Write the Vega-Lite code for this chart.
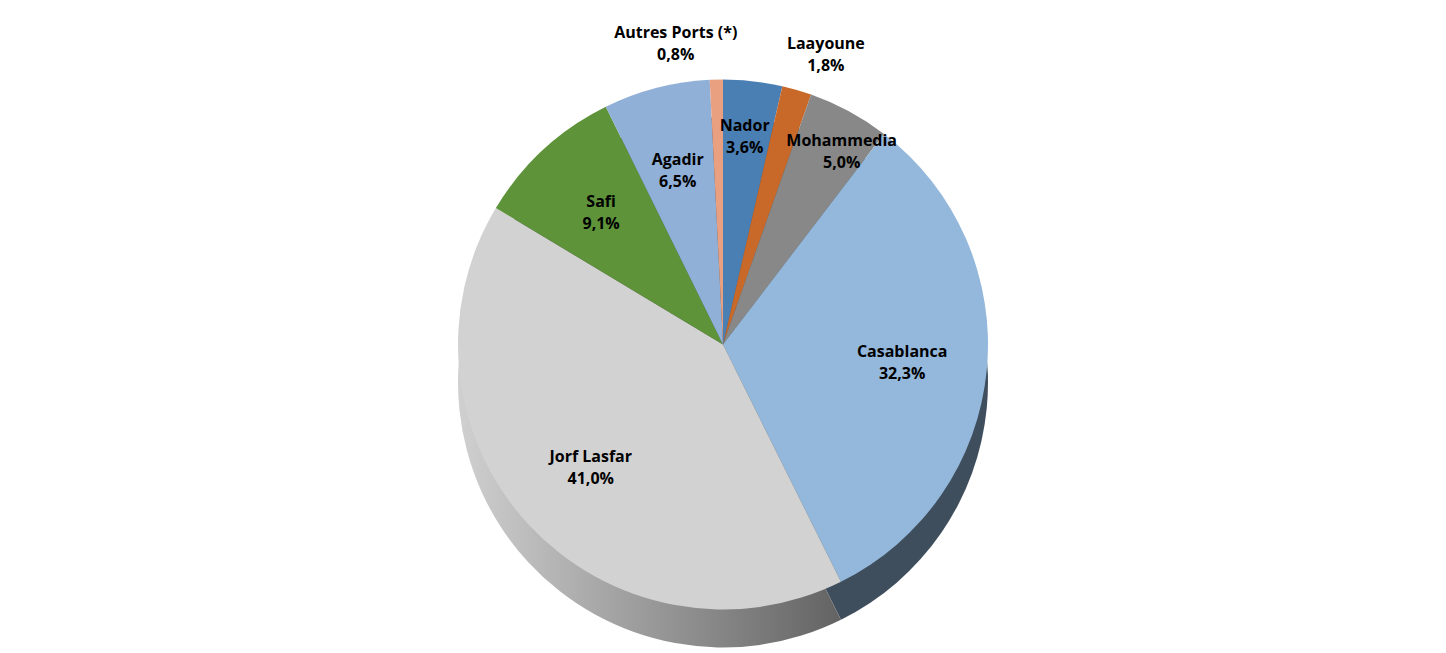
{
  "$schema": "https://vega.github.io/schema/vega-lite/v6.json",
  "width": 1446,
  "height": 653,
  "autosize": {"type": "fit", "contains": "padding"},
  "background": "white",
  "config": {
    "view": {"stroke": null},
    "text": {"fontSize": 16, "fontWeight": "bold", "font": "Open Sans", "color": "#000000"},
    "locale": {"number": {"decimal": ",", "thousands": " ", "grouping": [3], "currency": ["", " €"]}}
  },
  "data": {
    "values": [
      {"rank": 1, "port": "Nador", "v": 0.036},
      {"rank": 2, "port": "Laayoune", "v": 0.018},
      {"rank": 3, "port": "Mohammedia", "v": 0.050},
      {"rank": 4, "port": "Casablanca", "v": 0.323},
      {"rank": 5, "port": "Jorf Lasfar", "v": 0.410},
      {"rank": 6, "port": "Safi", "v": 0.091},
      {"rank": 7, "port": "Agadir", "v": 0.065},
      {"rank": 8, "port": "Autres Ports (*)", "v": 0.008}
    ]
  },
  "encoding": {
    "theta": {"field": "v", "type": "quantitative", "stack": true},
    "order": {"field": "rank", "type": "quantitative"}
  },
  "layer": [
    {
      "mark": {"type": "arc", "outerRadius": 265, "yOffset": 56},
      "encoding": {
        "fill": {
          "condition": [
            {"test": "datum.port === 'Casablanca'", "value": "#3f4e5d"},
            {"test": "datum.port === 'Jorf Lasfar'", "value": {"gradient": "linear", "x1": 0, "x2": 1, "y1": 0, "y2": 0, "stops": [{"offset": 0, "color": "#d0d0d0"}, {"offset": 1, "color": "#636363"}]}}
          ],
          "value": "#555555"
        }
      }
    },
    {
      "mark": {"type": "arc", "outerRadius": 265, "yOffset": 18},
      "encoding": {
        "color": {
          "field": "port", "type": "nominal", "legend": null,
          "scale": {
            "domain": ["Nador", "Laayoune", "Mohammedia", "Casablanca", "Jorf Lasfar", "Safi", "Agadir", "Autres Ports (*)"],
            "range": ["#4a7fb3", "#c8692a", "#888888", "#94b8dc", "#d2d2d2", "#5e933a", "#90b0d8", "#e8a080"]
          }
        }
      }
    },
    {
      "mark": {"type": "text", "radius": 180, "yOffset": 8},
      "encoding": {"text": {"condition": {"test": "datum.v >= 0.06", "field": "port"}, "value": ""}}
    },
    {
      "mark": {"type": "text", "radius": 180, "yOffset": 30},
      "encoding": {"text": {"condition": {"test": "datum.v >= 0.06", "field": "v", "type": "quantitative", "format": ".1%"}, "value": ""}}
    },
    {
      "mark": {"type": "text", "radius": 210, "yOffset": 8, "dx": -2},
      "encoding": {"text": {"condition": {"test": "datum.port === 'Nador'", "field": "port"}, "value": ""}}
    },
    {
      "mark": {"type": "text", "radius": 210, "yOffset": 30, "dx": -2},
      "encoding": {"text": {"condition": {"test": "datum.port === 'Nador'", "field": "v", "type": "quantitative", "format": ".1%"}, "value": ""}}
    },
    {
      "mark": {"type": "text", "radius": 220, "yOffset": 8, "dx": 14},
      "encoding": {"text": {"condition": {"test": "datum.port === 'Mohammedia'", "field": "port"}, "value": ""}}
    },
    {
      "mark": {"type": "text", "radius": 220, "yOffset": 30, "dx": 14},
      "encoding": {"text": {"condition": {"test": "datum.port === 'Mohammedia'", "field": "v", "type": "quantitative", "format": ".1%"}, "value": ""}}
    },
    {
      "mark": {"type": "text", "radius": 290, "yOffset": -4, "dx": 22},
      "encoding": {"text": {"condition": {"test": "datum.port === 'Laayoune'", "field": "port"}, "value": ""}}
    },
    {
      "mark": {"type": "text", "radius": 290, "yOffset": 18, "dx": 22},
      "encoding": {"text": {"condition": {"test": "datum.port === 'Laayoune'", "field": "v", "type": "quantitative", "format": ".1%"}, "value": ""}}
    },
    {
      "mark": {"type": "text", "radius": 290, "yOffset": -4, "dx": -40},
      "encoding": {"text": {"condition": {"test": "datum.port === 'Autres Ports (*)'", "field": "port"}, "value": ""}}
    },
    {
      "mark": {"type": "text", "radius": 290, "yOffset": 18, "dx": -40},
      "encoding": {"text": {"condition": {"test": "datum.port === 'Autres Ports (*)'", "field": "v", "type": "quantitative", "format": ".1%"}, "value": ""}}
    }
  ]
}
